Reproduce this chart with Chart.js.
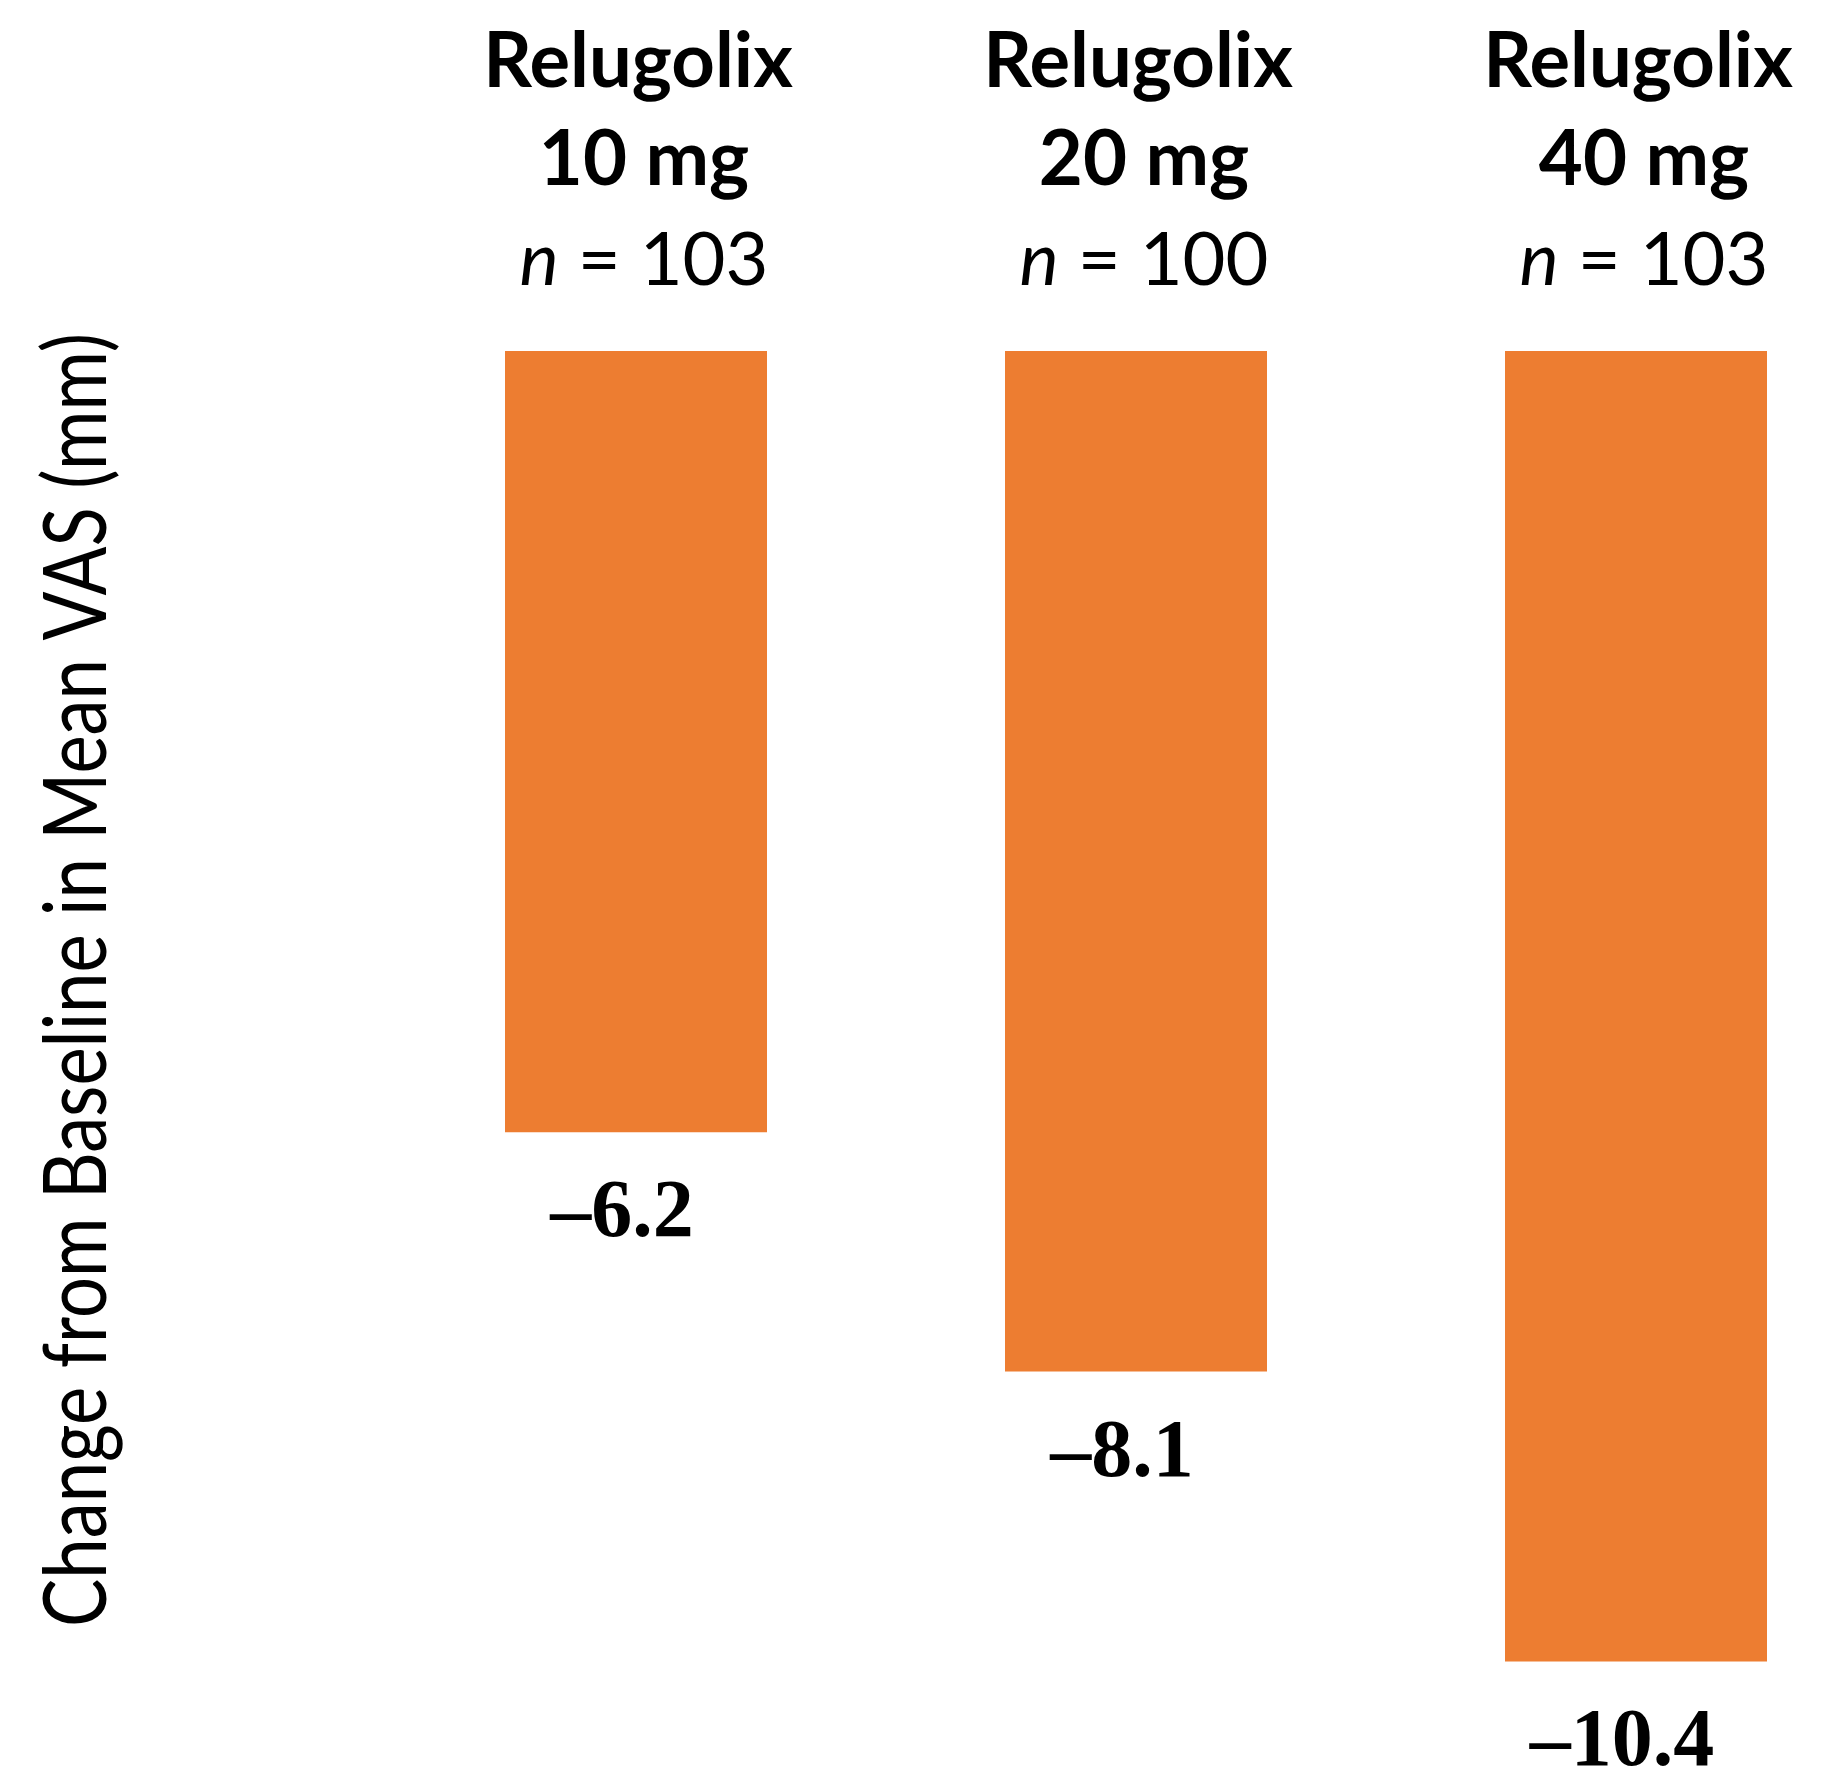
<!DOCTYPE html>
<html>
<head>
<meta charset="utf-8">
<title>Relugolix VAS change</title>
<script src="https://cdn.jsdelivr.net/npm/chart.js@4"></script>
<style>
  html, body { margin: 0; padding: 0; background: #fff; }
  canvas { display: block; }
</style>
</head>
<body>
<canvas id="vasChart" width="1824" height="1784"></canvas>
<script>
// data
const drugNames = ['Relugolix', 'Relugolix', 'Relugolix'];
const doseLabels = ['10 mg', '20 mg', '40 mg'];
const sampleSizes = [103, 100, 103];
const changeValues = [-6.2, -8.1, -10.4];
const axisTitle = 'Change from Baseline in Mean VAS (mm)';

const barColor = '#ED7D31';
const sansFont = 'Lato, Carlito, Calibri, "Open Sans", sans-serif';
const serifFont = '"Liberation Serif", "Times New Roman", serif';

function formatValue(v) {
    return (v < 0 ? '\u2013' : '') + Math.abs(v).toFixed(1);
}

const labelPlugin = {
    id: 'vasLabels',
    afterDatasetsDraw(chart) {
        const ctx = chart.ctx;
        const meta = chart.getDatasetMeta(0);
        const zeroY = chart.scales.y.getPixelForValue(0);

        ctx.save();
        ctx.fillStyle = '#000';
        ctx.textBaseline = 'alphabetic';

        meta.data.forEach((bar, i) => {
            let x = bar.x;

            // header above each bar
            ctx.textAlign = 'center';
            ctx.font = 'bold 76px ' + sansFont;
            ctx.fillText(drugNames[i], x + 2, zeroY - 264);
            ctx.fillText(doseLabels[i], x + 8, zeroY - 166);

            // "n = 103" with italic n
            ctx.textAlign = 'left';
            ctx.font = 'italic 74px ' + sansFont;
            let nW = ctx.measureText('n').width;
            ctx.font = '74px ' + sansFont;
            let rest = ' = ' + sampleSizes[i];
            let restW = ctx.measureText(rest).width;
            let startX = x + 8 - (nW + restW) / 2;
            ctx.font = 'italic 74px ' + sansFont;
            ctx.fillText('n', startX, zeroY - 66);
            ctx.font = '74px ' + sansFont;
            ctx.fillText(rest, startX + nW, zeroY - 66);

            // value under each bar
            ctx.textAlign = 'center';
            ctx.font = 'bold 82px ' + serifFont;
            ctx.fillText(formatValue(changeValues[i]), x - 14, bar.y + 104);
        });

        // rotated y axis title, squeezed to the reference length
        ctx.font = '88px ' + sansFont;
        let w = ctx.measureText(axisTitle).width;
        let sx = Math.min(1, 1294 / w);
        ctx.translate(106, 980);
        ctx.rotate(-Math.PI / 2);
        ctx.scale(sx, 1);
        ctx.textAlign = 'center';
        ctx.fillText(axisTitle, 0, 0);
        ctx.restore();
    }
};

new Chart(document.getElementById('vasChart'), {
    type: 'bar',
    data: {
        labels: doseLabels,
        datasets: [{
            data: changeValues,
            backgroundColor: barColor,
            borderWidth: 0,
            barPercentage: 1,
            categoryPercentage: 0.524,
            clip: false,
        }],
    },
    options: {
        responsive: false,
        animation: false,
        devicePixelRatio: 1,
        layout: { padding: { left: 636, right: 188, top: 351, bottom: 47 } },
        plugins: {
            legend: { display: false },
            tooltip: { enabled: false },
        },
        scales: {
            x: { display: false, offset: false },
            y: { display: false, min: -11, max: 0 },
        },
    },
    plugins: [labelPlugin],
});
</script>
</body>
</html>
